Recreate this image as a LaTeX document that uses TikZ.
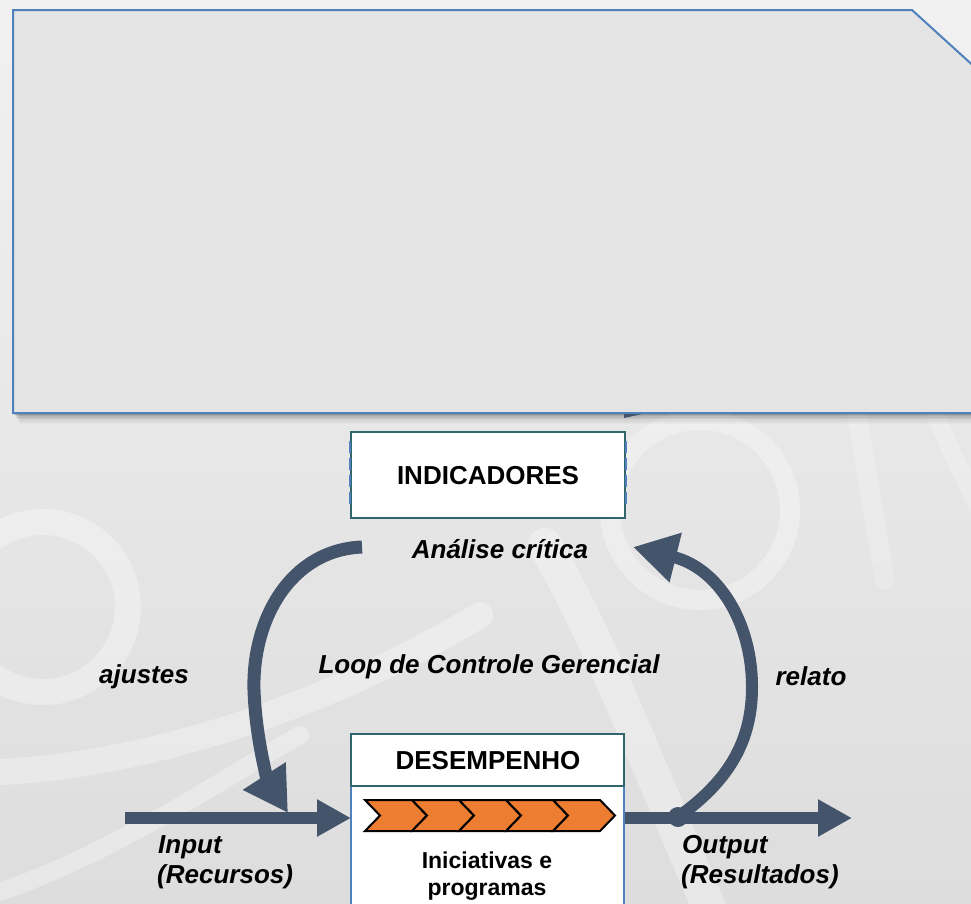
\documentclass[tikz,border=0pt]{standalone}
\usepackage{fontspec}
\setmainfont{Liberation Sans}
\usetikzlibrary{arrows.meta}
\definecolor{arrowc}{HTML}{44546A}
\definecolor{boxteal}{HTML}{31656E}
\definecolor{panelblue}{HTML}{4F81BD}
\definecolor{panelfill}{HTML}{E4E4E4}
\definecolor{chevorange}{HTML}{ED7D31}
\definecolor{bgtop}{HTML}{F1F1F1}
\definecolor{bgbot}{HTML}{DDDDDD}
\newcommand\lblfont{\fontsize{26}{31}\selectfont\bfseries\itshape}
\newcommand\boxfont{\fontsize{26}{31}\selectfont\bfseries}
\newcommand\smallboxfont{\fontsize{23}{27}\selectfont\bfseries}
\tikzset{
  swirl/.style={white, opacity=0.32, line cap=round},
  flow/.style={draw=arrowc, line width=11.5pt},
  curveflow/.style={draw=arrowc, line width=13pt},
  headA/.style={-{Triangle[length=34pt,width=35pt]}},
  headB/.style={-{Triangle[length=44pt,width=48pt]}},
  tealbox/.style={draw=boxteal, line width=2pt, fill=white, inner sep=0pt},
  chev/.style={fill=chevorange, draw=black, line width=2pt, line join=miter},
  lbl/.style={inner sep=0pt, font=\lblfont, text=black},
}
\begin{document}
\begin{tikzpicture}[x=1pt,y=-1pt]
\useasboundingbox (0,0) rectangle (971,903);
\clip (0,0) rectangle (971,903);
% background
\shade[top color=bgtop, bottom color=bgbot] (0,0) rectangle (971,903);
% swirls
\draw[swirl, line width=26pt] (43,607) circle (85);
\draw[swirl, line width=20pt] (700,510) circle (90);
\draw[swirl, line width=26pt] (0,772) .. controls (150,765) and (330,705) .. (480,615);
\draw[swirl, line width=18pt] (0,892) .. controls (120,850) and (220,780) .. (300,735);
\draw[swirl, line width=34pt] (545,545) .. controls (600,640) and (650,770) .. (710,910);
\draw[swirl, line width=20pt, opacity=0.22] (855,400) .. controls (865,470) and (875,520) .. (885,580);
\draw[swirl, line width=18pt, opacity=0.22] (930,400) .. controls (945,440) and (960,470) .. (980,510);
% panel shadow
\foreach \k/\o in {1/0.10,2/0.08,3/0.07,4/0.05,5/0.04,6/0.03,7/0.02}{
  \fill[black, opacity=\o] (13+\k,413) rectangle (971,413+\k*1.6);
}
% top panel
\filldraw[fill=panelfill, draw=panelblue, line width=2pt]
  (13,10) -- (912,10) -- (1000,90) -- (1000,413) -- (13,413) -- cycle;
\fill[arrowc] (624,414) -- (642,414) -- (624,418) -- cycle;
% INDICADORES
\node[tealbox, minimum width=274pt, minimum height=86pt] (ind) at (488,475) {};
\draw[panelblue, line width=1.5pt, dash pattern=on 12pt off 5pt] ([yshift=-10pt]ind.north west) -- ([yshift=10pt]ind.south west);
\draw[panelblue, line width=1.5pt, dash pattern=on 12pt off 5pt] ([yshift=-10pt]ind.north east) -- ([yshift=10pt]ind.south east);
\node[inner sep=0pt, font=\boxfont, anchor=base] (indt) at (488,484) {INDICADORES};
% DESEMPENHO body
\path[fill=white] (351,786) rectangle (624,910);
\draw[panelblue, line width=1.5pt] (351,786) -- (351,910);
\draw[panelblue, line width=1.5pt] (624,786) -- (624,910);
\coordinate (bodyW) at (351,818);
\coordinate (bodyE) at (625,818);
\node[tealbox, minimum width=273pt, minimum height=52pt] (des) at (487.5,760) {};
\node[inner sep=0pt, font=\boxfont, anchor=base] (dest) at (488,769) {DESEMPENHO};
% chevrons
\foreach \i in {0,...,4}{
  \pgfmathsetmacro{\xa}{365+47*\i}
  \filldraw[chev] (\xa,800) -- (\xa+47,800) -- (\xa+62,815.5) -- (\xa+47,831) -- (\xa,831) -- (\xa+15,815.5) -- cycle;
}
\node[inner sep=0pt, font=\smallboxfont, anchor=base] (ini) at (487,868) {Iniciativas e};
\node[inner sep=0pt, font=\smallboxfont, anchor=base] (prog) at (487,895) {programas};
% input / output arrows
\coordinate (inStart) at (125,818);
\coordinate (outEnd) at (852,818);
\draw[flow, headA] (inStart) -- (bodyW);
\draw[flow, headA] (bodyE) -- (outEnd);
% curved arrows
\coordinate (ajStart) at (362,547);
\coordinate (ajEnd) at (288,813);
\draw[curveflow, headB] (ajStart) .. controls (290,550) and (252,620) .. (254,690)
   .. controls (256,745) and (270,785) .. (ajEnd);
\node[circle, fill=arrowc, minimum size=20pt, inner sep=0pt] (dot) at (678,817) {};
\coordinate (relEnd) at (633,547);
\draw[curveflow, line width=12pt, headB] (dot.center) .. controls (730,780) and (752,740) .. (752,687)
   .. controls (752,622) and (718,568) .. (relEnd);
% labels
\node[lbl, anchor=base] (ana) at (500,558) {Análise crítica};
\node[lbl, anchor=base] (loop) at (489,673) {Loop de Controle Gerencial};
\node[lbl, anchor=base] (aj) at (144,683) {ajustes};
\node[lbl, anchor=base] (rel) at (811,685) {relato};
\node[lbl, anchor=base west] (inp) at (158,853) {Input};
\node[lbl, anchor=base west] (rec) at (157,883) {(Recursos)};
\node[lbl, anchor=base west] (outp) at (682,853) {Output};
\node[lbl, anchor=base west] (res) at (681,883) {(Resultados)};
\end{tikzpicture}
\end{document}
